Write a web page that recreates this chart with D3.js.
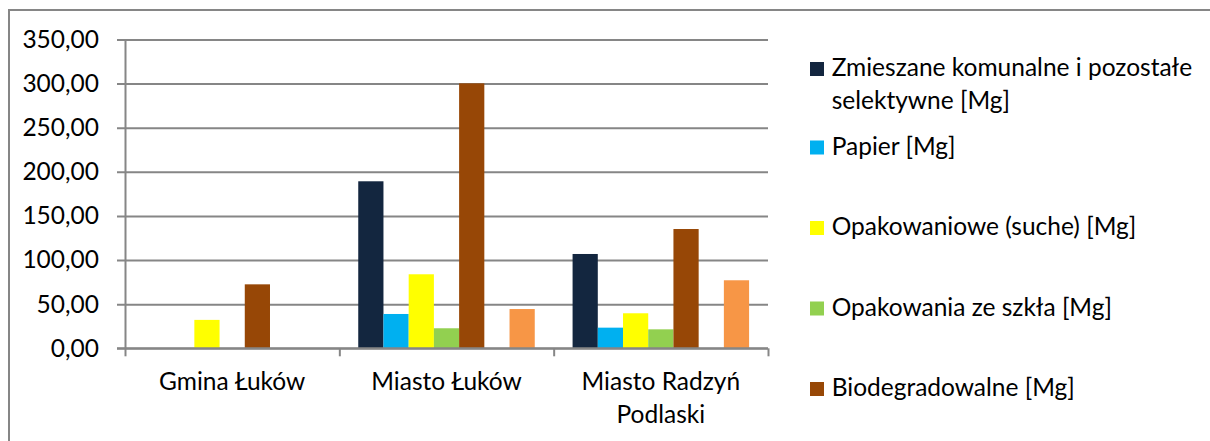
<!DOCTYPE html>
<html>
<head>
<meta charset="utf-8">
<script src="https://cdn.jsdelivr.net/npm/d3@7"></script>
<style>
  body { margin: 0; background: #fff; }
  svg { display: block; }
  text { font-family: Lato, "Open Sans", sans-serif; fill: #000; }
</style>
</head>
<body>
<svg id="chart" width="1210" height="441"></svg>
<script>
// categories (gminy) and series
var categories = ["Gmina Łuków", "Miasto Łuków", "Miasto Radzyń Podlaski"];
var seriesNames = [
  "Zmieszane komunalne i pozostałe selektywne [Mg]",
  "Papier [Mg]",
  "Opakowaniowe (suche) [Mg]",
  "Opakowania ze szkła [Mg]",
  "Biodegradowalne [Mg]",
  "",   // 6th series is empty in the chart
  ""    // orange series, legend cut off
];
var seriesColors = ["#13263f", "#00b0f0", "#ffff00", "#92d050", "#974706", "#4bacc6", "#f79646"];

// values per series, one per category (null = no bar)
var zmieszane    = [null, 189.3, 106.9];
var papier       = [null, 38.9, 23.4];
var opakowaniowe = [32.2, 83.9, 39.7];
var szklo        = [null, 22.7, 21.5];
var bio          = [72.5, 300.3, 135.2];
var seria6       = [null, null, null];
var seria7       = [null, 44.5, 77.1];
var seriesValues = [zmieszane, papier, opakowaniowe, szklo, bio, seria6, seria7];

var yTicks = [0, 50, 100, 150, 200, 250, 300, 350];

var svg = d3.select("#chart");
var fontSize = 24.5;

// outer frame (runs past the right/bottom edge of the picture)
svg.append("rect")
  .attr("x", 9).attr("y", 10)
  .attr("width", 1220).attr("height", 450)
  .attr("fill", "none")
  .attr("stroke", "#868686")
  .attr("stroke-width", 2);

var plotLeft = 125, plotRight = 768, plotTop = 39.5, plotBottom = 348.3;

var y = d3.scaleLinear().domain([0, 350]).range([plotBottom, plotTop]);
var x0 = d3.scaleBand().domain(categories).range([plotLeft, plotRight]).padding(0);
var bw = x0.bandwidth();
// Excel gap width 150%: 7 bars + 1.5 bar widths of gap
var slot = bw / 8.5;
var x1 = d3.scaleBand().domain(d3.range(seriesNames.length))
  .range([slot * 0.75, bw - slot * 0.75]).padding(0);

var plPl = d3.formatLocale({decimal: ",", thousands: " ", grouping: [3], currency: ["", " zł"]});
var fmt = plPl.format(".2f");

// y axis with gridlines
var yAxis = svg.append("g")
  .attr("transform", "translate(" + plotLeft + ",0)")
  .call(d3.axisLeft(y).tickValues(yTicks).tickFormat(fmt)
    .tickSizeInner(-(plotRight - plotLeft)).tickSizeOuter(0).tickPadding(26));
yAxis.select(".domain").attr("stroke", "#868686").attr("stroke-width", 2);
yAxis.selectAll(".tick line")
  .attr("x1", -8)
  .attr("stroke", "#868686").attr("stroke-width", 2);
yAxis.selectAll(".tick text")
  .attr("font-size", fontSize).attr("font-family", null).attr("fill", "#000");

// bars
var groups = svg.append("g").selectAll("g")
  .data(categories)
  .join("g")
  .attr("transform", function(d) { return "translate(" + x0(d) + ",0)"; });

groups.selectAll("rect")
  .data(function(d, ci) {
    return seriesValues.map(function(vals, si) { return {s: si, v: vals[ci]}; })
      .filter(function(e) { return e.v != null; });
  })
  .join("rect")
  .attr("x", function(d) { return x1(d.s); })
  .attr("width", x1.bandwidth())
  .attr("y", function(d) { return y(d.v); })
  .attr("height", function(d) { return y(0) - y(d.v); })
  .attr("fill", function(d) { return seriesColors[d.s]; });

// x axis line + boundary ticks
var xb = d3.scaleLinear().domain([0, categories.length]).range([plotLeft, plotRight]);
var xTicks = svg.append("g")
  .attr("transform", "translate(0," + plotBottom + ")")
  .call(d3.axisBottom(xb).ticks(categories.length).tickFormat("").tickSizeInner(8).tickSizeOuter(0));
xTicks.selectAll("line").attr("stroke", "#868686").attr("stroke-width", 2);
xTicks.select(".domain").attr("stroke", "#868686").attr("stroke-width", 2)
  .attr("d", "M" + (plotLeft - 8) + ",0H" + plotRight);

// category labels, wrapped to the band width
var xAxis = svg.append("g")
  .attr("transform", "translate(0," + plotBottom + ")")
  .call(d3.axisBottom(x0).tickSize(0));
xAxis.select(".domain").remove();
xAxis.selectAll(".tick text")
  .attr("font-size", fontSize).attr("font-family", null).attr("fill", "#000")
  .attr("y", 0).attr("dy", null)
  .each(function() { wrap(d3.select(this), bw - 10, 41.7, 33); });

function wrap(text, width, firstBase, lineH) {
  var words = text.text().split(/\s+/);
  text.text(null);
  var lines = [], line = [];
  var tmp = text.append("tspan");
  words.forEach(function(w) {
    line.push(w);
    tmp.text(line.join(" "));
    if (tmp.node().getComputedTextLength() > width && line.length > 1) {
      line.pop();
      lines.push(line.join(" "));
      line = [w];
    }
  });
  lines.push(line.join(" "));
  tmp.remove();
  lines.forEach(function(l, i) {
    text.append("tspan").attr("x", text.attr("x") || 0)
      .attr("y", firstBase + i * lineH).text(l);
  });
}

// legend (only the first five entries fit in the original)
var legendX = 810, legendTextX = 831.7;
var legendTops = [62, 140.5, 221, 301.5, 382];
var legend = svg.append("g").selectAll("g")
  .data(seriesNames.slice(0, 5))
  .join("g")
  .attr("transform", function(d, i) { return "translate(0," + legendTops[i] + ")"; });

legend.append("rect")
  .attr("x", legendX).attr("y", 0)
  .attr("width", 14).attr("height", 14)
  .attr("fill", function(d, i) { return seriesColors[i]; });

legend.append("text")
  .attr("x", legendTextX)
  .attr("font-size", fontSize)
  .text(function(d) { return d; })
  .each(function() {
    var t = d3.select(this);
    wrap(t, 372, 14, 32.7);
    t.selectAll("tspan").attr("x", legendTextX);
  });
</script>
</body>
</html>
